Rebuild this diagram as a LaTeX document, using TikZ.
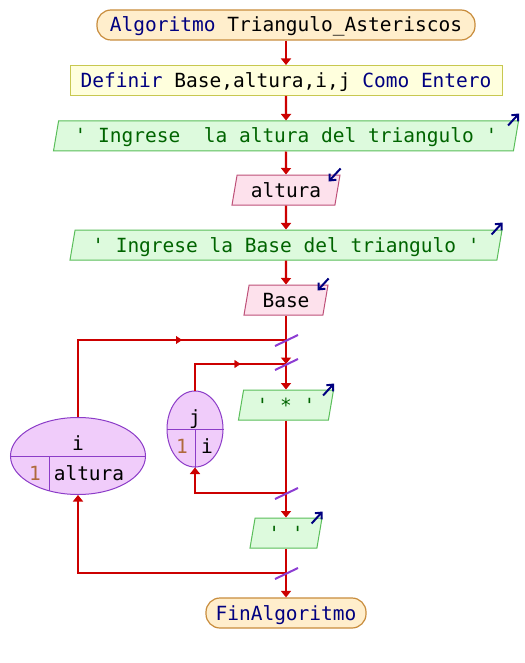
\documentclass[tikz,border=0pt]{standalone}
\usepackage{fontspec}
\newfontfamily\codefont{DejaVu Sans Mono}
\usetikzlibrary{shapes.geometric,arrows.meta,decorations.markings}
\definecolor{kw}{RGB}{0,0,128}
\definecolor{strgreen}{RGB}{0,100,0}
\definecolor{numbrown}{RGB}{175,105,60}
\definecolor{flowred}{RGB}{204,0,0}
\definecolor{slashpurple}{RGB}{140,60,210}
\definecolor{termfill}{RGB}{255,238,204}
\definecolor{termdraw}{RGB}{200,140,60}
\definecolor{deffill}{RGB}{255,255,221}
\definecolor{defdraw}{RGB}{200,200,80}
\definecolor{outfill}{RGB}{221,250,221}
\definecolor{outdraw}{RGB}{90,190,90}
\definecolor{infill}{RGB}{253,225,236}
\definecolor{indraw}{RGB}{190,80,120}
\definecolor{loopfill}{RGB}{240,204,250}
\definecolor{loopdraw}{RGB}{140,60,200}
\newcommand\sq{\textquotesingle}
\begin{document}
\begin{tikzpicture}[x=1pt,y=-1pt,
  txt/.style={font=\codefont\fontsize{19.5}{22}\selectfont, inner sep=0pt},
  basebox/.style={txt, text height=14pt, text depth=0pt, minimum height=30pt},
  term/.style={basebox, draw=termdraw, fill=termfill, rounded corners=14pt, line width=1.2pt, text=kw},
  defbox/.style={basebox, draw=defdraw, fill=deffill, line width=1pt},
  io/.style={basebox, trapezium, trapezium left angle=70, trapezium right angle=110,
             trapezium stretches body, line width=1pt},
  outbox/.style={io, draw=outdraw, fill=outfill, text=strgreen},
  inbox/.style={io, draw=indraw, fill=infill},
  loopell/.style={ellipse, draw=loopdraw, fill=loopfill, inner sep=0pt, line width=1pt},
  divider/.style={draw=loopdraw, line width=1pt},
  flow/.style={draw=flowred, line width=2.2pt},
  tip/.style={-{Triangle[width=10pt,length=6.5pt]}},
  flowmark/.style={decorate, decoration={markings,
      mark=at position 0.5 with {\arrow[flowred]{Triangle[width=8pt,length=6pt]}}}},
  slash/.style={draw=slashpurple, line width=2pt},
  ioarrow/.style={draw=kw, line width=2pt, -{Straight Barb[length=5pt,width=9pt]}}
]
\useasboundingbox[fill=white] (0,0) rectangle (524,663);

% main column
\node[term, minimum width=378pt] (start) at (286,25)
  {Algoritmo \textcolor{black}{Triangulo\_Asteriscos}};
\node[defbox, minimum width=432pt] (def) at (286,80.5)
  {\textcolor{kw}{Definir} Base,altura,i,j \textcolor{kw}{Como Entero}};
\node[outbox, minimum width=465pt] (g1) at (286,136)
  {\sq{} Ingrese\ \ la altura del triangulo \sq};
\node[inbox, minimum width=108pt] (alt) at (286,190) {altura};
\node[outbox, minimum width=432pt] (g2) at (286,245)
  {\sq{} Ingrese la Base del triangulo \sq};
\node[inbox, minimum width=84pt] (bas) at (286,300) {Base};
\coordinate (J1) at (286,340);
\coordinate (J2) at (286,364);
\node[outbox, minimum width=95pt] (star) at (286,405) {\sq{} * \sq};
\coordinate (J3) at (286,493);
\node[outbox, minimum width=72pt] (blank) at (286,533) {\sq{} \sq};
\coordinate (J4) at (286,573);
\node[term, minimum width=160pt] (fin) at (286,613) {FinAlgoritmo};

% loop ellipses
\node[loopell, minimum width=135pt, minimum height=77pt] (iloop) at (78,456) {};
\node[loopell, minimum width=56pt, minimum height=76pt] (jloop) at (195,429) {};
\draw[divider] (iloop.west) -- (iloop.east);
\draw[divider] ([xshift=-29pt]iloop.center) -- ([xshift=-29pt,yshift=-34.6pt]iloop.center);
\draw[divider] (jloop.west) -- (jloop.east);
\draw[divider] (jloop.center) -- (jloop.south);
\node[txt, anchor=base] (ivar) at (78,450) {i};
\node[txt, anchor=base, text=numbrown] (ifrom) at (35,480) {1};
\node[txt, anchor=base] (ito) at (89,480) {altura};
\node[txt, anchor=base] (jvar) at (195,424) {j};
\node[txt, anchor=base, text=numbrown] (jfrom) at (182,453) {1};
\node[txt, anchor=base] (jto) at (207,453) {i};

% connectors
\draw[flow,tip] (start) -- (def);
\draw[flow,tip] (def) -- (g1);
\draw[flow,tip] (g1) -- (alt);
\draw[flow,tip] (alt) -- (g2);
\draw[flow,tip] (g2) -- (bas);
\draw[flow] (bas) -- (J1);
\draw[flow,tip] (J1) -- (J2);
\draw[flow,tip] (J2) -- (star);
\draw[flow] (star) -- (J3);
\draw[flow,tip] (J3) -- (blank);
\draw[flow] (blank) -- (J4);
\draw[flow,tip] (J4) -- (fin);
% inner loop
\draw[flow,tip] (J3) -| (jloop.south);
\draw[flow] (jloop.north) |- (J2);
\path[flowmark] (jloop.north |- J2) -- (J2);
% outer loop
\draw[flow,tip] (J4) -| (iloop.south);
\draw[flow] (iloop.north) |- (J1);
\path[flowmark] (iloop.north |- J1) -- (J1);

% junction slashes
\foreach \j in {J1,J2,J3,J4}
  \draw[slash] ([shift={(-11,6)}]\j) -- ([shift={(12,-5)}]\j);

% io arrows
\draw[ioarrow] ([shift={(-11,5)}]g1.top right corner) -- ([shift={(0,-7)}]g1.top right corner);
\draw[ioarrow] ([shift={(-11,5)}]g2.top right corner) -- ([shift={(0,-7)}]g2.top right corner);
\draw[ioarrow] ([shift={(-11,6)}]star.top right corner) -- ([shift={(0,-6)}]star.top right corner);
\draw[ioarrow] ([shift={(-11,6)}]blank.top right corner) -- ([shift={(0,-6)}]blank.top right corner);
\draw[ioarrow] ([shift={(0,-6)}]alt.top right corner) -- ([shift={(-12,7)}]alt.top right corner);
\draw[ioarrow] ([shift={(0,-6)}]bas.top right corner) -- ([shift={(-11,6)}]bas.top right corner);
\end{tikzpicture}
\end{document}
